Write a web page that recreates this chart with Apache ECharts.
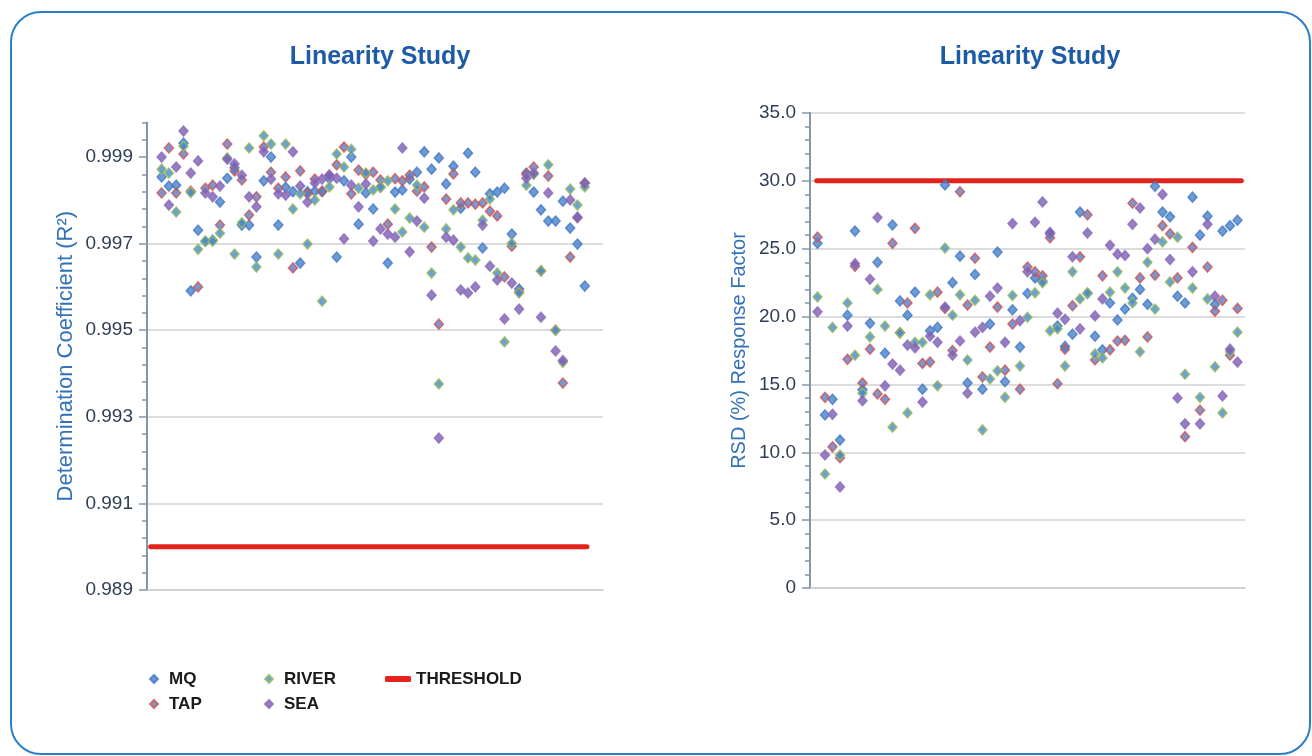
<!DOCTYPE html>
<html>
<head>
<meta charset="utf-8">
<title>Linearity Study</title>
<script src="https://cdn.jsdelivr.net/npm/echarts@6/dist/echarts.min.js"></script>
<style>
  html, body { margin: 0; padding: 0; background: #ffffff; }
  #chart { width: 1312px; height: 756px; }
</style>
</head>
<body>
<div id="chart"></div>
<script>
// Determination coefficient (R²) per calibration set, one value per matrix
const r2MQ = [0.99854, 0.99833, 0.99835, 0.99932, 0.99591, 0.99731, 0.99705, 0.99708, 0.99796, 0.99851,
  0.99875, 0.99743, 0.99743, 0.99669, 0.99845, 0.99900, 0.99743, 0.99830, 0.99820, 0.99655,
  0.99820, 0.99821, 0.99820, 0.99850, 0.99669, 0.99845, 0.99900, 0.99745, 0.99817, 0.99780,
  0.99830, 0.99655, 0.99819, 0.99824, 0.99849, 0.99865, 0.99912, 0.99872, 0.99898, 0.99838,
  0.99879, 0.99782, 0.99909, 0.99865, 0.99690, 0.99815, 0.99819, 0.99828, 0.99722, 0.99595,
  0.99863, 0.99819, 0.99778, 0.99752, 0.99752, 0.99798, 0.99736, 0.99699, 0.99602];
const r2TAP = [0.99817, 0.99921, 0.99817, 0.99907, 0.99821, 0.99600, 0.99828, 0.99835, 0.99743, 0.99930,
  0.99868, 0.99847, 0.99766, 0.99808, 0.99923, 0.99865, 0.99828, 0.99854, 0.99644, 0.99868,
  0.99815, 0.99849, 0.99821, 0.99858, 0.99882, 0.99923, 0.99815, 0.99870, 0.99860, 0.99865,
  0.99847, 0.99745, 0.99850, 0.99845, 0.99858, 0.99821, 0.99831, 0.99692, 0.99514, 0.99803,
  0.99861, 0.99794, 0.99794, 0.99791, 0.99794, 0.99775, 0.99764, 0.99623, 0.99694, 0.99588,
  0.99860, 0.99877, 0.99637, 0.99856, 0.99500, 0.99378, 0.99669, 0.99760, 0.99840];
const r2RIVER = [0.99872, 0.99863, 0.99773, 0.99925, 0.99818, 0.99687, 0.99706, 0.99706, 0.99724, 0.99898,
  0.99676, 0.99748, 0.99921, 0.99646, 0.99949, 0.99930, 0.99676, 0.99930, 0.99780, 0.99815,
  0.99699, 0.99801, 0.99567, 0.99831, 0.99907, 0.99877, 0.99918, 0.99828, 0.99863, 0.99824,
  0.99831, 0.99845, 0.99780, 0.99727, 0.99759, 0.99835, 0.99738, 0.99632, 0.99376, 0.99734,
  0.99778, 0.99692, 0.99667, 0.99662, 0.99754, 0.99803, 0.99632, 0.99473, 0.99701, 0.99586,
  0.99835, 0.99860, 0.99637, 0.99882, 0.99500, 0.99426, 0.99826, 0.99789, 0.99831];
const r2SEA = [0.99900, 0.99789, 0.99877, 0.99960, 0.99863, 0.99891, 0.99817, 0.99808, 0.99833, 0.99895,
  0.99884, 0.99858, 0.99808, 0.99785, 0.99912, 0.99849, 0.99815, 0.99812, 0.99912, 0.99833,
  0.99796, 0.99840, 0.99849, 0.99858, 0.99851, 0.99711, 0.99835, 0.99785, 0.99838, 0.99706,
  0.99734, 0.99722, 0.99715, 0.99921, 0.99681, 0.99752, 0.99805, 0.99581, 0.99251, 0.99715,
  0.99708, 0.99593, 0.99586, 0.99600, 0.99743, 0.99648, 0.99616, 0.99526, 0.99609, 0.99549,
  0.99851, 0.99863, 0.99530, 0.99817, 0.99452, 0.99430, 0.99801, 0.99761, 0.99840];

// RSD (%) of the response factor per calibration set, one value per matrix
const rsdMQ = [25.4, 12.75, 13.9, 10.9, 20.1, 26.3, 14.6, 19.5, 24.0, 17.3,
  26.75, 21.15, 20.1, 21.8, 14.65, 18.95, 19.2, 29.7, 22.5, 24.45,
  15.1, 23.1, 14.65, 19.45, 24.75, 15.2, 20.5, 17.75, 21.7, 22.85,
  22.6, 26.1, 19.3, 17.8, 18.7, 27.7, 21.7, 18.55, 17.55, 21.0,
  19.75, 20.55, 21.35, 22.0, 20.9, 29.6, 27.7, 27.35, 21.5, 21.0,
  28.8, 26.0, 27.4, 20.9, 26.3, 26.7, 27.1];
const rsdTAP = [25.85, 14.05, 10.4, 9.6, 16.85, 23.7, 15.1, 17.6, 14.3, 13.9,
  25.4, 18.8, 21.0, 26.5, 16.55, 16.65, 21.8, 20.6, 17.5, 29.2,
  20.85, 24.3, 15.55, 17.75, 20.7, 16.05, 19.45, 14.65, 23.65, 23.3,
  23.0, 25.8, 15.05, 17.6, 20.8, 24.4, 27.5, 16.8, 23.0, 17.55,
  18.2, 18.25, 28.35, 22.85, 18.5, 23.05, 26.7, 26.1, 22.85, 11.15,
  25.1, 13.1, 23.65, 20.4, 21.2, 17.15, 20.6];
const rsdRIVER = [21.45, 8.4, 19.2, 9.8, 21.0, 17.15, 14.35, 18.5, 22.0, 19.3,
  11.85, 18.8, 12.9, 18.1, 18.1, 21.6, 14.9, 25.05, 20.1, 21.6,
  16.8, 21.2, 11.65, 15.4, 16.0, 14.05, 21.55, 16.35, 19.95, 21.75,
  22.5, 18.95, 19.1, 16.35, 23.3, 21.3, 21.75, 17.25, 16.95, 21.8,
  23.3, 22.1, 21.0, 17.4, 24.0, 20.55, 25.5, 22.55, 25.85, 15.75,
  22.1, 14.05, 21.3, 16.3, 12.9, 17.4, 18.85];
const rsdSEA = [20.35, 9.8, 12.8, 7.45, 19.3, 23.9, 13.8, 22.75, 27.3, 14.9,
  16.5, 16.05, 17.9, 17.7, 13.7, 18.55, 18.1, 20.7, 17.15, 18.2,
  14.35, 18.85, 19.2, 21.5, 22.1, 18.1, 26.85, 19.7, 23.3, 26.95,
  28.45, 26.2, 20.25, 19.8, 24.4, 19.1, 26.15, 20.05, 21.3, 25.25,
  24.6, 24.5, 26.8, 28.0, 25.0, 25.7, 29.0, 24.2, 14.0, 12.1,
  23.3, 12.1, 26.8, 21.5, 14.15, 17.6, 16.65];

// Acceptance limits
const r2Threshold = 0.990;
const rsdThreshold = 30.0;

// Axis ticks
const r2Ticks = [0.989, 0.991, 0.993, 0.995, 0.997, 0.999];
const r2MinorStep = 0.0004;
const rsdTicks = [0, 5, 10, 15, 20, 25, 30, 35];

const seriesNames = ['MQ', 'TAP', 'RIVER', 'SEA'];
const r2Sets = [r2MQ, r2TAP, r2RIVER, r2SEA];
const rsdSets = [rsdMQ, rsdTAP, rsdRIVER, rsdSEA];

// Marker look per matrix: fill and rim
const markerStyles = {
  MQ:    { color: '#4a82ca', borderColor: '#4279c4' },
  TAP:   { color: '#5a7cc4', borderColor: '#d0544f' },
  RIVER: { color: '#4a88ca', borderColor: '#93bd5a' },
  SEA:   { color: '#7d5eb2', borderColor: '#8a6cbd' }
};

const r2Min = r2Ticks[0];
const r2Max = 0.9998;
const r2Minor = [];
for (let v = r2Min; v <= r2Max + 1e-9; v += r2MinorStep) r2Minor.push(+v.toFixed(5));

const tickColor = '#8396a8';
const labelFont = { color: '#2f3e52', fontSize: 19, fontFamily: 'Liberation Sans, Arial, sans-serif' };
const nameFontLeft = { color: '#3472b8', fontSize: 22, fontFamily: 'Liberation Sans, Arial, sans-serif' };
const nameFontRight = { color: '#3472b8', fontSize: 20, fontFamily: 'Liberation Sans, Arial, sans-serif' };
const gridLineStyle = { color: '#dcdcdc', width: 2 };

function scatterSeries(name, values, xIdx, yIdx) {
  return {
    name: name,
    type: 'scatter',
    xAxisIndex: xIdx,
    yAxisIndex: yIdx,
    symbol: 'diamond',
    symbolSize: [9, 10],
    z: 3,
    itemStyle: Object.assign({ borderWidth: 1.5 }, markerStyles[name]),
    data: values.map((v, i) => [i, v])
  };
}

const series = [];
seriesNames.forEach((n, k) => series.push(scatterSeries(n, r2Sets[k], 0, 0)));
seriesNames.forEach((n, k) => series.push(scatterSeries(n, rsdSets[k], 1, 2)));

const lineStyleThreshold = { color: '#e3221c', width: 5, cap: 'round' };
series.push({
  name: 'THRESHOLD', type: 'line', xAxisIndex: 0, yAxisIndex: 0, symbol: 'none', z: 2,
  itemStyle: { color: '#e3221c' }, lineStyle: lineStyleThreshold,
  data: [[-1.5, r2Threshold], [r2MQ.length - 0.7, r2Threshold]]
});
series.push({
  name: 'THRESHOLD', type: 'line', xAxisIndex: 1, yAxisIndex: 2, symbol: 'none', z: 2,
  itemStyle: { color: '#e3221c' }, lineStyle: lineStyleThreshold,
  data: [[-0.1, rsdThreshold], [rsdMQ.length - 0.5, rsdThreshold]]
});

const hiddenX = (gridIndex, min, max) => ({
  type: 'value', gridIndex, min, max,
  axisLine: { show: true, onZero: false, lineStyle: { color: '#c3c3c3', width: 1.5 } },
  axisTick: { show: false }, axisLabel: { show: false }, splitLine: { show: false }
});

const legendText = {
  color: '#1a1a1a', fontSize: 17, fontWeight: 'bold',
  fontFamily: 'Liberation Sans, Arial, sans-serif', lineHeight: 18, padding: [0, 0, 0, 6]
};
const legendMarker = { orient: 'vertical', itemGap: 7, itemWidth: 8, itemHeight: 8, symbolKeepAspect: true,
  textStyle: legendText, selectedMode: false };

const option = {
  animation: false,
  backgroundColor: '#ffffff',
  grid: [
    { left: 147, top: 122.4, width: 456, height: 467.6 },
    { left: 810, top: 113, width: 435, height: 475 }
  ],
  xAxis: [
    hiddenX(0, -2, r2MQ.length + 1.5),
    hiddenX(1, -1, rsdMQ.length)
  ],
  yAxis: [
    {
      type: 'value', gridIndex: 0, position: 'left', min: r2Min, max: r2Max, interval: 0.002,
      name: 'Determination Coefficient (R²)', nameLocation: 'middle', nameGap: 70,
      nameTextStyle: nameFontLeft,
      axisLine: { show: true, onZero: false, lineStyle: { color: tickColor, width: 2 } },
      axisTick: { show: true, length: 8, customValues: r2Ticks, lineStyle: { color: tickColor, width: 1.5 } },
      axisLabel: Object.assign({ margin: 14, customValues: r2Ticks, formatter: v => v.toFixed(3) }, labelFont),
      splitLine: { show: true, showMinLine: false, showMaxLine: false, lineStyle: gridLineStyle }
    },
    {
      type: 'value', gridIndex: 0, position: 'left', offset: 0, min: r2Min, max: r2Max,
      axisLine: { show: false, onZero: false },
      axisTick: { show: true, length: 5, customValues: r2Minor, lineStyle: { color: tickColor, width: 1.5 } },
      axisLabel: { show: false }, splitLine: { show: false }
    },
    {
      type: 'value', gridIndex: 1, position: 'left', min: rsdTicks[0], max: rsdTicks[rsdTicks.length - 1], interval: 5,
      name: 'RSD (%) Response Factor', nameLocation: 'middle', nameGap: 61,
      nameTextStyle: nameFontRight,
      axisLine: { show: true, onZero: false, lineStyle: { color: tickColor, width: 2 } },
      axisTick: { show: true, length: 8, lineStyle: { color: tickColor, width: 1.5 } },
      minorTick: { show: true, splitNumber: 5, length: 5, lineStyle: { color: tickColor, width: 1.5 } },
      axisLabel: Object.assign({ margin: 14, formatter: v => (v === 0 ? '0' : v.toFixed(1)) }, labelFont),
      splitLine: { show: true, showMinLine: false, lineStyle: gridLineStyle },
      minorSplitLine: { show: false }
    }
  ],
  legend: [
    Object.assign({ left: 144, top: 665, data: ['MQ', 'TAP'] }, legendMarker),
    Object.assign({ left: 259, top: 665, data: ['RIVER', 'SEA'] }, legendMarker),
    { left: 380, top: 665, orient: 'vertical', itemWidth: 26, itemHeight: 6,
      data: [{ name: 'THRESHOLD', icon: 'roundRect' }], textStyle: Object.assign({}, legendText, { padding: [0, 0, 0, 0] }),
      selectedMode: false }
  ],
  graphic: [
    { type: 'rect', silent: true, z: -10,
      shape: { x: 11, y: 12, width: 1299, height: 742, r: 30 },
      style: { fill: 'none', stroke: '#2a7fc6', lineWidth: 2 } },
    { type: 'text', x: 380, y: 57,
      style: { text: 'Linearity Study', align: 'center', verticalAlign: 'middle', fill: '#1d5ba6',
        font: 'bold 25px "Liberation Sans", Arial, sans-serif' } },
    { type: 'text', x: 1030, y: 57,
      style: { text: 'Linearity Study', align: 'center', verticalAlign: 'middle', fill: '#1d5ba6',
        font: 'bold 25px "Liberation Sans", Arial, sans-serif' } }
  ],
  series: series
};

const chart = echarts.init(document.getElementById('chart'), null, { renderer: 'canvas' });
chart.setOption(option);
</script>
</body>
</html>
